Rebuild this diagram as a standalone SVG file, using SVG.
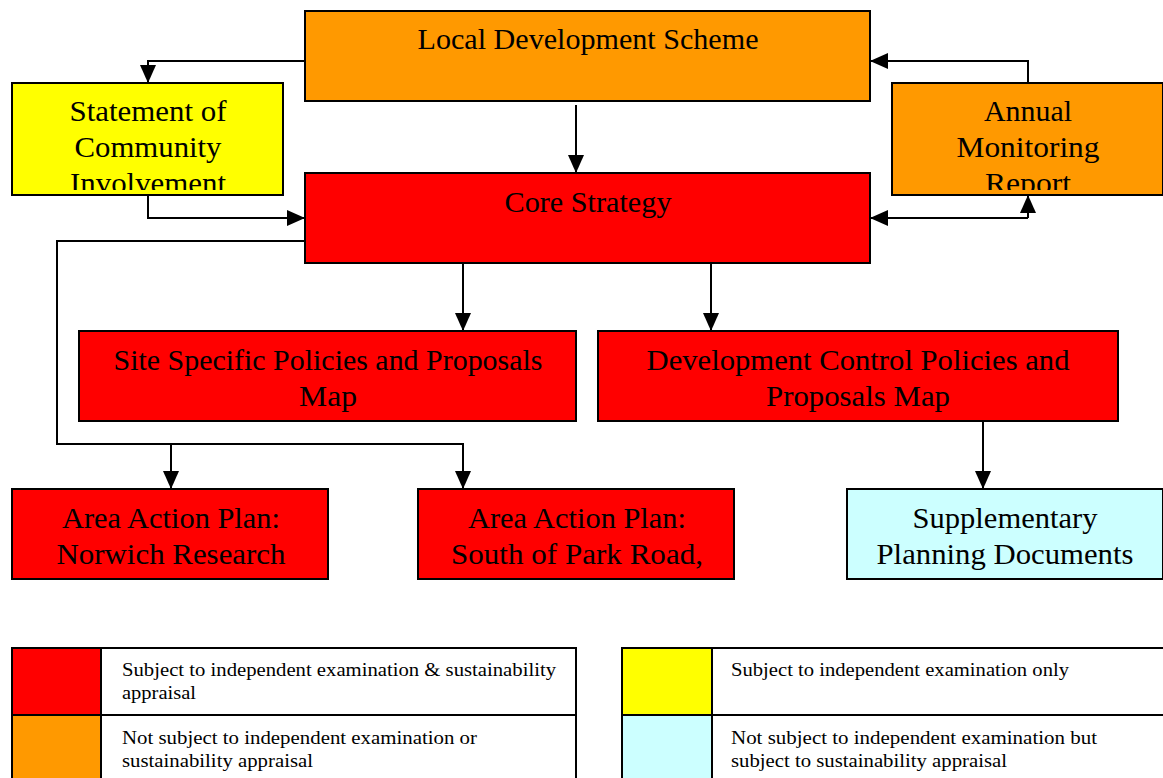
<svg xmlns="http://www.w3.org/2000/svg" width="1163" height="778" viewBox="0 0 1163 778">
<style>
.box{stroke:#000;stroke-width:2}
.red{fill:#FF0000}.org{fill:#FF9900}.yel{fill:#FFFF00}.cyn{fill:#CCFFFF}
.t{font-family:"Liberation Serif","Times New Roman",serif;font-size:29px;fill:#000;text-anchor:middle}
.lt{font-family:"Liberation Serif","Times New Roman",serif;font-size:18.5px;fill:#000}
.c{fill:none;stroke:#000;stroke-width:2}
.cell{stroke:#000;stroke-width:2}
</style>
<defs>
<marker id="ah" markerUnits="userSpaceOnUse" markerWidth="18" markerHeight="18" refX="18" refY="8" orient="auto">
<path d="M0,0 L18,8 L0,16 z" fill="#000"/>
</marker>
<clipPath id="clipSCI"><rect x="12" y="83" width="271" height="107"/></clipPath>
<clipPath id="clipAMR"><rect x="892" y="83" width="271" height="107"/></clipPath>
</defs>

<g id="lds">
<rect class="box org" x="305" y="11" width="565" height="90"/>
<text class="t" x="588" y="49" textLength="341" lengthAdjust="spacingAndGlyphs">Local Development Scheme</text>
</g>
<g id="sci">
<rect class="box yel" x="12" y="83" width="271" height="112"/>
<g clip-path="url(#clipSCI)">
<text class="t" x="148" y="121" textLength="157" lengthAdjust="spacingAndGlyphs">Statement of</text>
<text class="t" x="148" y="157" textLength="147" lengthAdjust="spacingAndGlyphs">Community</text>
<text class="t" x="148" y="193" textLength="156" lengthAdjust="spacingAndGlyphs">Involvement</text>
</g>
</g>
<g id="amr">
<rect class="box org" x="892" y="83" width="271" height="112"/>
<g clip-path="url(#clipAMR)">
<text class="t" x="1028" y="121" textLength="88" lengthAdjust="spacingAndGlyphs">Annual</text>
<text class="t" x="1028" y="157" textLength="143" lengthAdjust="spacingAndGlyphs">Monitoring</text>
<text class="t" x="1028" y="193" textLength="86" lengthAdjust="spacingAndGlyphs">Report</text>
</g>
</g>
<g id="core">
<rect class="box red" x="305" y="173" width="565" height="90"/>
<text class="t" x="588" y="212" textLength="167" lengthAdjust="spacingAndGlyphs">Core Strategy</text>
</g>
<g id="ssp">
<rect class="box red" x="79" y="331" width="497" height="90"/>
<text class="t" x="328" y="370" textLength="429" lengthAdjust="spacingAndGlyphs">Site Specific Policies and Proposals</text>
<text class="t" x="328" y="406" textLength="58" lengthAdjust="spacingAndGlyphs">Map</text>
</g>
<g id="dcp">
<rect class="box red" x="598" y="331" width="520" height="90"/>
<text class="t" x="858" y="370" textLength="423" lengthAdjust="spacingAndGlyphs">Development Control Policies and</text>
<text class="t" x="858" y="406" textLength="184" lengthAdjust="spacingAndGlyphs">Proposals Map</text>
</g>
<g id="aapn">
<rect class="box red" x="12" y="489" width="316" height="90"/>
<text class="t" x="171" y="528" textLength="218" lengthAdjust="spacingAndGlyphs">Area Action Plan:</text>
<text class="t" x="171" y="564" textLength="229" lengthAdjust="spacingAndGlyphs">Norwich Research</text>
</g>
<g id="aaps">
<rect class="box red" x="418" y="489" width="316" height="90"/>
<text class="t" x="577" y="528" textLength="218" lengthAdjust="spacingAndGlyphs">Area Action Plan:</text>
<text class="t" x="577" y="564" textLength="252" lengthAdjust="spacingAndGlyphs">South of Park Road,</text>
</g>
<g id="spd">
<rect class="box cyn" x="847" y="489" width="316" height="90"/>
<text class="t" x="1005" y="528" textLength="185" lengthAdjust="spacingAndGlyphs">Supplementary</text>
<text class="t" x="1005" y="564" textLength="257" lengthAdjust="spacingAndGlyphs">Planning Documents</text>
</g>

<g id="connectors">
<path class="c" d="M305,61 H148 V83" marker-end="url(#ah)"/>
<path class="c" d="M576,105 V173" marker-end="url(#ah)"/>
<path class="c" d="M1028,83 V61 H870" marker-end="url(#ah)"/>
<path class="c" d="M148,195 V218 H305" marker-end="url(#ah)"/>
<path class="c" d="M1028,218 H870" marker-end="url(#ah)"/>
<path class="c" d="M1028,218 V195" marker-end="url(#ah)"/>
<path class="c" d="M305,241 H57 V444 H463 V489" marker-end="url(#ah)"/>
<path class="c" d="M171,444 V489" marker-end="url(#ah)"/>
<path class="c" d="M463,263 V331" marker-end="url(#ah)"/>
<path class="c" d="M711,263 V331" marker-end="url(#ah)"/>
<path class="c" d="M983,421 V489" marker-end="url(#ah)"/>
</g>

<g id="legend">
<rect class="cell red" x="12" y="648" width="89" height="67"/>
<rect class="cell" fill="#fff" x="101" y="648" width="475" height="67"/>
<rect class="cell org" x="12" y="715" width="89" height="70"/>
<rect class="cell" fill="#fff" x="101" y="715" width="475" height="70"/>
<rect class="cell yel" x="622" y="648" width="90" height="67"/>
<rect class="cell" fill="#fff" x="712" y="648" width="460" height="67"/>
<rect class="cell cyn" x="622" y="715" width="90" height="70"/>
<rect class="cell" fill="#fff" x="712" y="715" width="460" height="70"/>
<text class="lt" x="122" y="676" textLength="434" lengthAdjust="spacingAndGlyphs">Subject to independent examination &amp; sustainability</text>
<text class="lt" x="122" y="699" textLength="74" lengthAdjust="spacingAndGlyphs">appraisal</text>
<text class="lt" x="122" y="744" textLength="355" lengthAdjust="spacingAndGlyphs">Not subject to independent examination or</text>
<text class="lt" x="122" y="767" textLength="191" lengthAdjust="spacingAndGlyphs">sustainability appraisal</text>
<text class="lt" x="731" y="676" textLength="338" lengthAdjust="spacingAndGlyphs">Subject to independent examination only</text>
<text class="lt" x="731" y="744" textLength="366" lengthAdjust="spacingAndGlyphs">Not subject to independent examination but</text>
<text class="lt" x="731" y="767" textLength="276" lengthAdjust="spacingAndGlyphs">subject to sustainability appraisal</text>
</g>
</svg>
